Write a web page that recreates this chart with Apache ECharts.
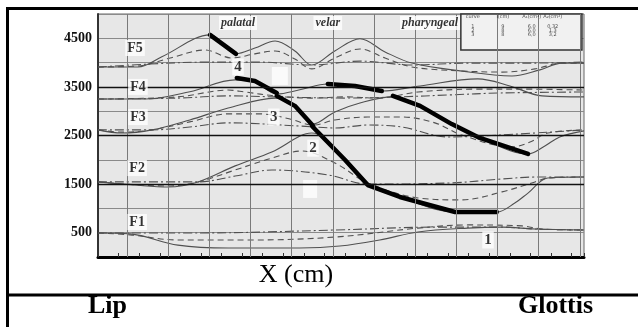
<!DOCTYPE html>
<html>
<head>
<meta charset="utf-8">
<script src="https://cdn.jsdelivr.net/npm/echarts@6/dist/echarts.min.js"></script>
<style>
html,body{margin:0;padding:0;background:#fff}
#chart{width:638px;height:327px}
</style>
</head>
<body>
<div id="chart"></div>
<script>
// y tick labels (Hz) and grid positions (cm)
var yTicks = [500, 1500, 2500, 3500, 4500];
var darkLines = [1500, 2500, 3500];
var xGridLines = [0.7, 1.7, 2.7, 3.7, 4.7, 5.7, 6.7, 7.7, 8.7, 9.7, 10.7, 11.7];

// formant curves [x (cm), Hz] ; curve 1 solid, 2 dashed, 3 dash-dot
var f5Solid = [[0,3910],[0.97,3910],[1.55,4120],[2.72,4570],[3.35,4180],[3.81,4300],[4.30,4445],[4.78,4240],[5.19,3950],[5.75,4240],[6.36,4490],[6.97,4220],[7.62,3990],[8.79,3830],[10.05,3725],[10.73,3850],[11.26,3990],[11.8,3990]];
var f5Dash = [[0,3910],[0.97,3930],[1.75,4095],[2.60,4260],[3.25,4095],[3.81,4180],[4.30,4240],[4.78,4075],[5.19,3870],[5.75,4095],[6.36,4280],[6.97,4095],[7.62,3910],[8.79,3830],[9.81,3805],[10.61,3870],[11.26,3990],[11.8,3990]];
var f5DashDot = [[0,3910],[1.26,3970],[2.60,4010],[3.93,4010],[5.19,3950],[6.36,4030],[7.62,3950],[8.98,3990],[10.61,3990],[11.8,4010]];

var f4Solid = [[0,3250],[1.14,3250],[2.23,3400],[3.33,3645],[3.81,3600],[4.34,3355],[4.90,3440],[5.58,3560],[6.24,3520],[6.89,3415],[7.82,3520],[9.22,3665],[10.0,3520],[10.78,3315],[11.8,3295]];
var f4Dash = [[0,3250],[1.94,3295],[3.16,3435],[3.57,3395],[4.30,3315],[5.19,3270],[6.00,3295],[6.80,3270],[7.77,3395],[9.22,3455],[10.29,3455],[11.8,3435]];
var f4DashDot = [[0,3250],[1.94,3270],[3.16,3315],[4.30,3295],[6.00,3270],[7.33,3295],[8.54,3335],[9.76,3375],[11.8,3395]];

var f3Solid = [[0,2615],[0.58,2550],[1.31,2615],[2.23,2820],[3.16,3065],[4.30,3270],[4.78,3110],[5.22,2735],[5.75,2985],[6.36,3170],[7.14,3295],[7.82,3110],[8.59,2735],[9.27,2450],[10.44,2120],[10.85,2285],[11.21,2470],[11.8,2595]];
var f3Dash = [[0,2615],[0.58,2570],[1.31,2615],[2.23,2780],[3.16,2945],[3.93,2945],[4.66,2840],[5.22,2715],[5.75,2820],[6.55,2880],[7.38,2880],[8.18,2760],[8.83,2510],[10.05,2265],[10.49,2365],[10.92,2550],[11.8,2615]];
var f3DashDot = [[0,2615],[1.31,2615],[2.23,2675],[3.16,2760],[4.90,2695],[5.75,2655],[6.55,2715],[7.38,2675],[8.50,2470],[9.76,2510],[11.8,2615]];

var f2Solid = [[0,1545],[0.90,1480],[1.70,1440],[2.43,1545],[3.33,1875],[4.22,2160],[5.19,2550],[6.00,1995],[6.55,1480],[7.33,1235],[8.67,925],[9.68,925],[10.12,1110],[10.44,1315],[10.92,1625],[11.8,1645]];
var f2Dash = [[0,1545],[1.70,1460],[2.43,1545],[3.33,1790],[4.22,2035],[4.95,2180],[5.75,1935],[6.55,1525],[7.77,1215],[8.83,1175],[9.81,1340],[10.61,1545],[10.92,1625],[11.8,1645]];
var f2DashDot = [[0,1545],[2.43,1545],[3.33,1665],[4.22,1790],[5.58,1690],[6.55,1500],[8.59,1525],[9.81,1605],[10.61,1645],[11.8,1645]];

var f1Solid = [[0,495],[0.78,475],[1.94,245],[3.16,185],[4.90,185],[5.87,225],[6.84,350],[7.77,515],[8.98,595],[9.81,615],[10.61,575],[11.8,555]];
var f1Dash = [[0,495],[0.78,455],[1.94,350],[3.69,350],[5.75,410],[7.77,595],[8.98,660],[10.29,640],[10.78,575],[11.8,555]];
var f1DashDot = [[0,495],[2.48,495],[5.75,555],[8.18,615],[9.81,615],[10.61,575],[11.8,555]];

// heavy trajectory segments
var trackF5 = [[2.72,4570],[3.35,4180]];
var trackF4a = [[3.37,3685],[3.81,3620],[4.34,3375]];
var trackF3a = [[4.34,3315],[4.78,3110],[5.22,2700]];
var trackF2 = [[5.20,2690],[6.00,1995],[6.55,1480],[7.33,1235],[8.67,925],[9.68,925]];
var trackF4b = [[5.58,3560],[6.24,3520],[6.89,3415]];
var trackF3b = [[7.16,3315],[7.82,3110],[8.59,2735],[9.27,2450],[10.44,2120]];

// annotations [x, Hz, text]
var formantLabels = [[0.90,4300,'F5'],[0.97,3500,'F4'],[0.97,2880,'F3'],[0.95,1830,'F2'],[0.95,720,'F1']];
var numberLabels = [[3.40,3910,'4'],[4.27,2880,'3'],[5.22,2240,'2'],[9.47,350,'1']];
var regionLabels = [[3.40,4815,'palatal'],[5.58,4815,'velar'],[8.06,4815,'pharyngeal']];

// small parameter table
var tableCols = [9.10, 9.83, 10.53, 11.04];
var tableRowY = [4940, 4735, 4650, 4570];
var tableHeader = ['curve', 'l(cm)', 'A\u2081(cm\u00b2)', 'A\u2082(cm\u00b2)'];
var tableRows = [['1','9','6,0','0,32'], ['2','8','6,0','1,3'], ['3','8','6,0','3,2']];
var tableBox = [[8.81,5000],[11.75,4260]];
var maskBoxes = [[[4.22,3910],[4.61,3540]], [[4.98,1585],[5.32,1215]]];

var serif = 'Liberation Serif, Times New Roman, serif';
var curveColor = '#505050';

function curve(data, type) {
	var dash = type == 'solid' ? 'solid' : (type == 'dash' ? [6, 4] : [9, 3, 2, 3]);
	return {
		type: 'line', data: data, smooth: 0.35, symbol: 'none', z: 2, silent: true,
		lineStyle: {color: curveColor, width: 1.1, type: dash}
	};
}
function track(data) {
	return {
		type: 'line', data: data, symbol: 'none', z: 3, silent: true,
		lineStyle: {color: '#000', width: 4.5, cap: 'round', join: 'round'}
	};
}
function labels(data, font, italic, bg) {
	return {
		type: 'scatter', data: data, symbolSize: 1, z: 6, silent: true,
		itemStyle: {color: 'rgba(0,0,0,0)'},
		label: {
			show: true, position: 'inside', color: '#000',
			fontFamily: serif, fontWeight: 'bold', fontSize: font,
			fontStyle: italic ? 'italic' : 'normal',
			backgroundColor: bg ? '#fff' : 'transparent', padding: [1, 2],
			formatter: function (p) { return p.data[2]; }
		}
	};
}

var tableData = [];
tableHeader.forEach(function (t, i) { tableData.push([tableCols[i], tableRowY[0], t]); });
tableRows.forEach(function (row, r) {
	row.forEach(function (t, i) { tableData.push([tableCols[i], tableRowY[r + 1], t]); });
});

var series = [
	{
		type: 'line', data: [], z: 1, silent: true,
		markLine: {
			silent: true, symbol: 'none', label: {show: false}, animation: false,
			lineStyle: {color: '#7a7a7a', width: 1, type: 'solid'},
			data: xGridLines.map(function (v) { return {xAxis: v}; })
		}
	},
	{
		type: 'line', data: [], z: 1, silent: true,
		markLine: {
			silent: true, symbol: 'none', label: {show: false}, animation: false,
			lineStyle: {color: '#111', width: 1.3, type: 'solid'},
			data: darkLines.map(function (v) { return {yAxis: v}; })
		}
	},
	curve(f5Solid, 'solid'), curve(f5Dash, 'dash'), curve(f5DashDot, 'dashdot'),
	curve(f4Solid, 'solid'), curve(f4Dash, 'dash'), curve(f4DashDot, 'dashdot'),
	curve(f3Solid, 'solid'), curve(f3Dash, 'dash'), curve(f3DashDot, 'dashdot'),
	curve(f2Solid, 'solid'), curve(f2Dash, 'dash'), curve(f2DashDot, 'dashdot'),
	curve(f1Solid, 'solid'), curve(f1Dash, 'dash'), curve(f1DashDot, 'dashdot'),
	track(trackF5), track(trackF4a), track(trackF3a), track(trackF2), track(trackF4b), track(trackF3b),
	{
		type: 'line', data: [], z: 4, silent: true,
		markArea: {
			silent: true, animation: false,
			itemStyle: {color: '#fafafa'},
			data: maskBoxes.map(function (b) { return [{coord: b[0]}, {coord: b[1]}]; })
		}
	},
	{
		type: 'line', data: [], z: 4, silent: true,
		markArea: {
			silent: true, animation: false,
			itemStyle: {color: '#f1f1f1', borderColor: '#333', borderWidth: 1.5},
			data: [[{coord: tableBox[0]}, {coord: tableBox[1]}]]
		}
	},
	labels(formantLabels, 14, false, true),
	labels(numberLabels, 15, false, true),
	labels(regionLabels, 12, true, true),
	{
		type: 'scatter', data: tableData, symbolSize: 1, z: 6, silent: true,
		itemStyle: {color: 'rgba(0,0,0,0)'},
		label: {
			show: true, position: 'inside', color: '#222', fontFamily: 'DejaVu Sans',
			fontSize: 5, formatter: function (p) { return p.data[2]; }
		}
	}
];

var chart = echarts.init(document.getElementById('chart'), null, {renderer: 'canvas'});
chart.setOption({
	animation: false,
	backgroundColor: '#fff',
	grid: {
		left: 98, right: 54, top: 14, bottom: 70,
		show: true, backgroundColor: '#e7e7e7', borderColor: '#666', borderWidth: 1
	},
	xAxis: {
		type: 'value', min: 0, max: 11.8, interval: 0.5,
		axisLine: {show: true, onZero: false, lineStyle: {color: '#000', width: 3}},
		axisTick: {show: true, inside: true, length: 4, lineStyle: {color: '#333'}},
		axisLabel: {show: false},
		splitLine: {show: false}
	},
	yAxis: {
		type: 'value', min: 0, max: 5000, interval: 500,
		axisLine: {show: true, lineStyle: {color: '#333', width: 2}},
		axisTick: {show: false},
		axisLabel: {
			color: '#111', fontFamily: serif, fontWeight: 'bold', fontSize: 14, margin: 6,
			formatter: function (v) { return yTicks.indexOf(v) >= 0 ? String(v) : ''; }
		},
		splitLine: {show: true, lineStyle: {color: '#8a8a8a', width: 1}}
	},
	graphic: [
		{type: 'line', shape: {x1: 6, y1: 8.5, x2: 638, y2: 8.5}, style: {stroke: '#000', lineWidth: 3}},
		{type: 'line', shape: {x1: 7.5, y1: 7, x2: 7.5, y2: 327}, style: {stroke: '#000', lineWidth: 3}},
		{type: 'line', shape: {x1: 6, y1: 295, x2: 638, y2: 295}, style: {stroke: '#000', lineWidth: 3}},
		{type: 'text', style: {text: 'X (cm)', x: 296, y: 275, textAlign: 'center', textVerticalAlign: 'middle', font: '26px ' + serif, fill: '#000'}},
		{type: 'text', style: {text: 'Lip', x: 88, y: 306, textAlign: 'left', textVerticalAlign: 'middle', font: 'bold 26px ' + serif, fill: '#000'}},
		{type: 'text', style: {text: 'Glottis', x: 518, y: 306, textAlign: 'left', textVerticalAlign: 'middle', font: 'bold 26px ' + serif, fill: '#000'}}
	],
	series: series
});
</script>
</body>
</html>
